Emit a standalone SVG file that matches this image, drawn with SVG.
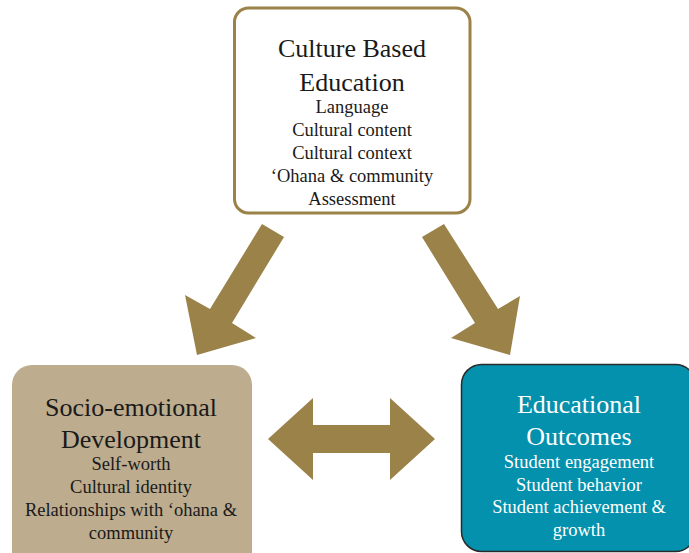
<svg xmlns="http://www.w3.org/2000/svg" width="689" height="553" viewBox="0 0 689 553">
<style>
.t{font-family:"Liberation Serif","Times New Roman",serif;text-anchor:middle}
.big{font-size:26px}
.sm{font-size:18.5px}
.dark{fill:#1a1a1a}
.light{fill:#ffffff}
.arrow{fill:#9a8249}
</style>
<rect width="689" height="553" fill="#ffffff"/>
<g id="connectors">
<polygon class="arrow" points="262,224 284,237 232,323 256,338 197,355 185,295 210,309"/>
<polygon class="arrow" points="444,224 422,237 475,323 451,338 510,355 520,296 498,309"/>
<polygon class="arrow" points="268,439 313,398 313,425 390,425 390,398 435,439 390,480 390,453 313,453 313,480"/>
</g>
<g id="culture-based-education">
<rect x="234.5" y="8" width="235.5" height="205" rx="14" fill="#ffffff" stroke="#9a8249" stroke-width="3"/>
<text class="t big dark" x="352" y="57">Culture Based</text>
<text class="t big dark" x="352" y="91">Education</text>
<text class="t sm dark" x="352" y="113">Language</text>
<text class="t sm dark" x="352" y="136">Cultural content</text>
<text class="t sm dark" x="352" y="159">Cultural context</text>
<text class="t sm dark" x="352" y="182">‘Ohana &amp; community</text>
<text class="t sm dark" x="352" y="205">Assessment</text>
</g>
<g id="socio-emotional-development">
<rect x="12" y="365" width="240" height="210" rx="20" fill="#bdac8e"/>
<text class="t big dark" x="131" y="416">Socio-emotional</text>
<text class="t big dark" x="131" y="448">Development</text>
<text class="t sm dark" x="131" y="470">Self-worth</text>
<text class="t sm dark" x="131" y="493">Cultural identity</text>
<text class="t sm dark" x="131" y="516">Relationships with ‘ohana &amp;</text>
<text class="t sm dark" x="131" y="539">community</text>
</g>
<g id="educational-outcomes">
<rect x="461.5" y="364.5" width="234" height="187" rx="20" fill="#0391ad" stroke="#2a2a2a" stroke-width="1.5"/>
<text class="t big light" x="579" y="413">Educational</text>
<text class="t big light" x="579" y="445">Outcomes</text>
<text class="t sm light" x="579" y="468">Student engagement</text>
<text class="t sm light" x="579" y="491">Student behavior</text>
<text class="t sm light" x="579" y="513">Student achievement &amp;</text>
<text class="t sm light" x="579" y="536">growth</text>
</g>
</svg>
